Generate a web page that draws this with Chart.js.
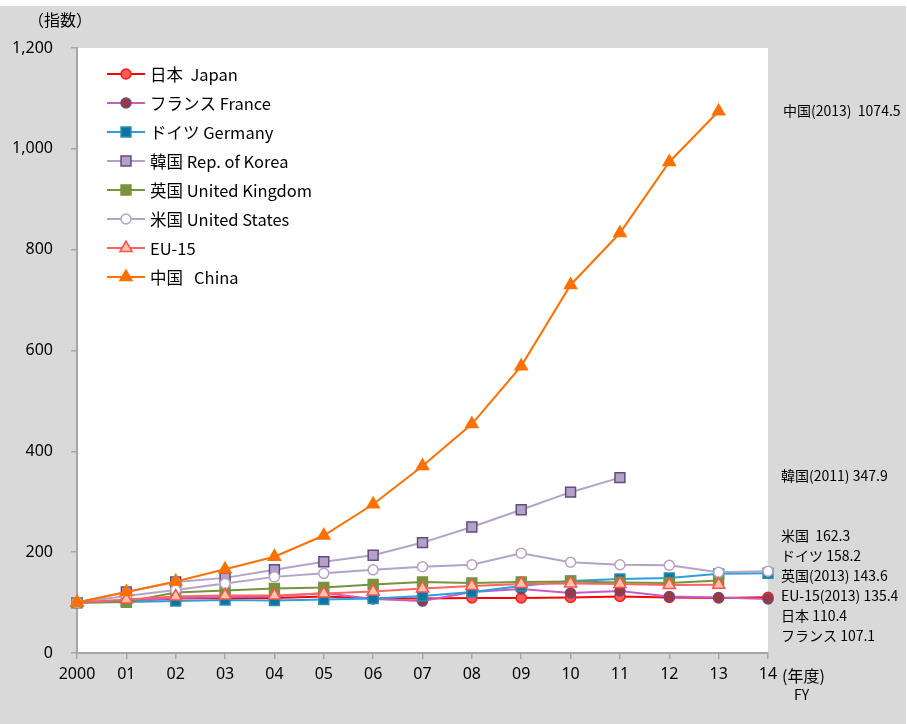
<!DOCTYPE html>
<html lang="ja">
<head>
<meta charset="utf-8">
<title>指数</title>
<script src="https://cdn.jsdelivr.net/npm/chart.js@4.4.1/dist/chart.umd.min.js"></script>
<style>
  html, body { margin: 0; padding: 0; background: #ffffff; }
  canvas { display: block; }
</style>
</head>
<body>
<canvas id="indexChart" width="907" height="724"></canvas>
<script>
// 年度 (FY)
const years = ['2000', '01', '02', '03', '04', '05', '06', '07', '08', '09', '10', '11', '12', '13', '14'];

// 指数 (2000 = 100)
const japan   = [100, 103, 108, 109, 109, 112, 108, 108, 109, 109, 110, 112, 110, 109, 110.4];
const france  = [100, 102, 109, 111, 112, 119, 107, 103, 121, 127, 119, 123, 112, 110, 107.1];
const germany = [100, 101, 103, 105, 104, 106, 108, 113, 121, 133, 143, 147, 149, 157, 158.2];
const korea   = [100, 121, 141, 149, 165, 181, 194, 219, 250, 284, 319, 347.9];
const uk      = [100, 101, 120, 124, 128, 130, 136, 141, 139, 141, 142, 140, 139, 143.6];
const usa     = [100, 113, 125, 138, 151, 158, 165, 171, 175, 198, 180, 175, 174, 160, 162.3];
const eu15    = [100, 106, 112, 114, 114, 118, 122, 128, 133, 137, 138, 137, 135, 135.4];
const china   = [100, 121, 142, 166, 191, 233, 295, 371, 454, 569, 730, 833, 974, 1074.5];

const seriesNames = ['日本  Japan', 'フランス France', 'ドイツ Germany', '韓国 Rep. of Korea',
                     '英国 United Kingdom', '米国 United States', 'EU-15', '中国   China'];

const yTicks = [0, 200, 400, 600, 800, 1000, 1200];

// 右側の注記
const chinaNote = '中国(2013)  1074.5';
const koreaNote = '韓国(2011) 347.9';
const endNotes = ['米国  162.3', 'ドイツ 158.2', '英国(2013) 143.6', 'EU-15(2013) 135.4', '日本 110.4', 'フランス 107.1'];

const JP_FONT = '"Noto Sans CJK JP", "Noto Sans", sans-serif';

function series(label, data, line, fill, border, style, radius) {
    return {
        label: label,
        data: data,
        borderColor: line,
        backgroundColor: line,
        borderWidth: 2,
        pointStyle: style,
        pointRadius: radius,
        pointHoverRadius: radius,
        pointBackgroundColor: fill,
        pointBorderColor: border,
        pointBorderWidth: 1.5,
        tension: 0,
        clip: false,
        spanGaps: false
    };
}

const datasets = [
    series(seriesNames[0], japan,   '#ff0000', '#ff5a5a', '#ff1a1a', 'circle',   5),
    series(seriesNames[1], france,  '#c85cc0', '#983a3e', '#6a4a82', 'circle',   5),
    series(seriesNames[2], germany, '#2aa0dc', '#0a74a8', '#2f8fa6', 'rect',     7),
    series(seriesNames[3], korea,   '#b4a2c8', '#b4a2c8', '#644a80', 'rect',     7),
    series(seriesNames[4], uk,      '#77933c', '#77933c', '#77933c', 'rect',     7),
    series(seriesNames[5], usa,     '#b4a2c8', '#ffffff', '#b4a2c8', 'circle',   5),
    series(seriesNames[6], eu15,    '#ff6464', '#ffc4a8', '#ff5050', 'triangle', 7),
    series(seriesNames[7], china,   '#ff7000', '#ff7000', '#ff7000', 'triangle', 7)
];
// Excel と同じく後の系列を上に描く
datasets.forEach((d, i) => { d.order = datasets.length - i; });

const backdrop = {
    id: 'backdrop',
    beforeDraw(chart) {
        const ctx = chart.ctx;
        const a = chart.chartArea;
        ctx.save();
        ctx.fillStyle = '#d9d9d9';
        ctx.fillRect(0, 6, chart.width - 1, chart.height - 6);
        ctx.fillStyle = '#ffffff';
        ctx.fillRect(a.left, a.top, a.right - a.left, a.bottom - a.top);
        ctx.restore();
    }
};

const notes = {
    id: 'notes',
    afterDraw(chart) {
        const ctx = chart.ctx;
        const y = chart.scales.y;
        ctx.save();
        ctx.fillStyle = '#000000';
        ctx.textBaseline = 'middle';
        ctx.textAlign = 'left';

        // 凡例
        ctx.font = '16.5px ' + JP_FONT;
        datasets.forEach((d, i) => {
            const cy = 74 + i * 29;
            ctx.strokeStyle = d.borderColor;
            ctx.lineWidth = 2;
            ctx.beginPath();
            ctx.moveTo(107, cy);
            ctx.lineTo(145, cy);
            ctx.stroke();
            ctx.fillStyle = d.pointBackgroundColor;
            ctx.strokeStyle = d.pointBorderColor;
            ctx.lineWidth = d.pointBorderWidth;
            Chart.helpers.drawPoint(ctx, {
                pointStyle: d.pointStyle, radius: d.pointRadius, rotation: 0, borderWidth: d.pointBorderWidth
            }, 126, cy);
            ctx.fillStyle = '#000000';
            ctx.fillText(d.label, 150, cy + 1);
        });

        // 軸の見出し
        ctx.font = '16px ' + JP_FONT;
        ctx.fillText('（指数）', 28, 20);
        ctx.fillText('(年度)', 782, 676);
        ctx.font = '14px ' + JP_FONT;
        ctx.fillText('FY', 794, 695);

        // 右側の注記
        ctx.font = '14px ' + JP_FONT;
        ctx.fillText(chinaNote, 783, y.getPixelForValue(china[china.length - 1]) - 1);
        ctx.fillText(koreaNote, 781, y.getPixelForValue(korea[korea.length - 1]) - 2);
        endNotes.forEach((t, i) => ctx.fillText(t, 781, 536 + i * 20));
        ctx.restore();
    }
};

const ctx = document.getElementById('indexChart').getContext('2d');
const indexChart = new Chart(ctx, {
    type: 'line',
    data: { labels: years, datasets: datasets },
    options: {
        responsive: false,
        animation: false,
        events: [],
        layout: { padding: { top: 48, right: 139, left: 0, bottom: 0 } },
        plugins: {
            legend: { display: false },
            tooltip: { enabled: false }
        },
        scales: {
            x: {
                type: 'category',
                offset: false,
                border: { color: '#a6a6a6', width: 2 },
                grid: { drawOnChartArea: false, drawTicks: true, tickLength: 6, color: '#a6a6a6', lineWidth: 1.5 },
                ticks: {
                    color: '#000000',
                    padding: 6,
                    maxRotation: 0,
                    autoSkip: false,
                    font: { family: '"Noto Sans", sans-serif', size: 16 }
                },
                afterFit(scale) { scale.height = 71; }
            },
            y: {
                min: 0,
                max: 1200,
                border: { color: '#a6a6a6', width: 2 },
                grid: { drawOnChartArea: false, drawTicks: true, tickLength: 6, color: '#a6a6a6', lineWidth: 1.5 },
                afterBuildTicks(scale) { scale.ticks = yTicks.map(v => ({ value: v })); },
                ticks: {
                    color: '#000000',
                    padding: 18,
                    font: { family: '"Noto Sans", sans-serif', size: 16 },
                    callback: v => v.toLocaleString('en-US')
                },
                afterFit(scale) { scale.width = 77; }
            }
        }
    },
    plugins: [backdrop, notes]
});
</script>
</body>
</html>
